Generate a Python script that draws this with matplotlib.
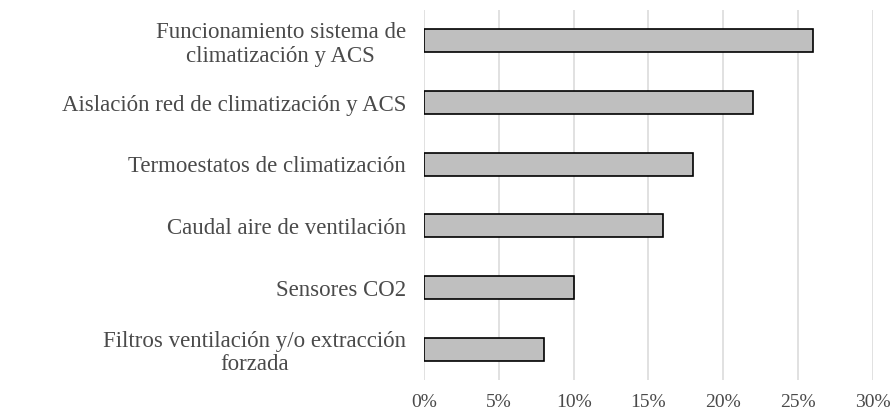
import matplotlib.pyplot as plt
from matplotlib.ticker import PercentFormatter

# items, listed top to bottom as in the chart
labels = [
    "Funcionamiento sistema de\nclimatización y ACS",
    "Aislación red de climatización y ACS",
    "Termoestatos de climatización",
    "Caudal aire de ventilación",
    "Sensores CO2",
    "Filtros ventilación y/o extracción\nforzada",
]
shares = [26, 22, 18, 16, 10, 8]
x_ticks = [0, 5, 10, 15, 20, 25, 30]

plt.rcParams['font.family'] = ['Liberation Serif', 'DejaVu Serif']

fig = plt.figure(figsize=(8.96, 4.15), dpi=100)
ax = fig.add_axes([0.4732, 0.0843, 0.5011, 0.8916])

pos = list(range(len(labels)))[::-1]
ax.barh(pos, shares, height=0.37, color='#bfbfbf', edgecolor='black',
        linewidth=1.2, zorder=3)

ax.set_xlim(0, 30)
ax.set_ylim(-0.5, len(labels) - 0.5)
ax.set_xticks(x_ticks)
ax.xaxis.set_major_formatter(PercentFormatter(decimals=0))
ax.set_yticks(pos)
ax.set_yticklabels(labels, multialignment='center', linespacing=1.15)

ax.grid(axis='x', color='#d9d9d9', linewidth=1.1, zorder=0)
ax.grid(axis='y', visible=False)
for s in ax.spines.values():
    s.set_visible(False)
ax.tick_params(axis='y', length=0, pad=13, labelsize=16.5, labelcolor='#4a4a4a')
ax.tick_params(axis='x', length=0, pad=10, labelsize=14, labelcolor='#4a4a4a')

fig.savefig('out.png', dpi=100)
